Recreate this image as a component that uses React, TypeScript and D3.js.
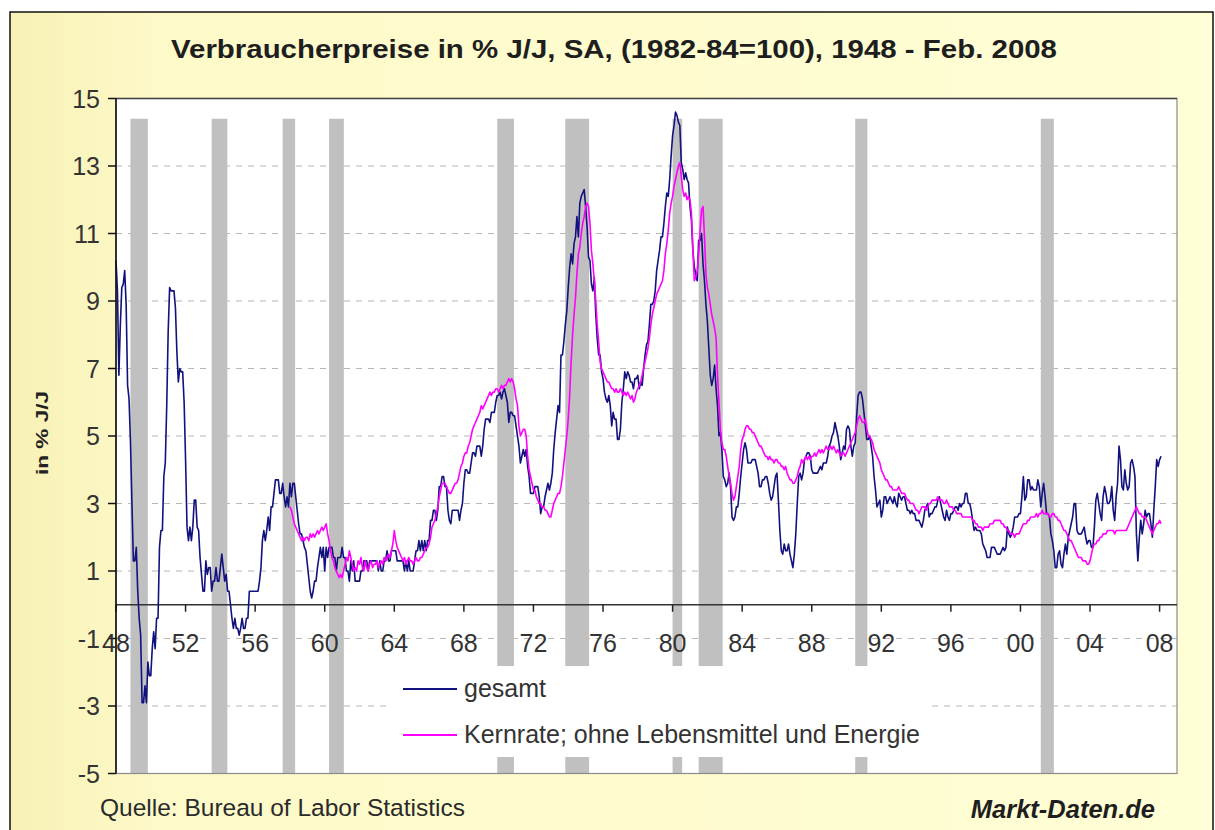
import React from 'react';
import * as d3 from 'd3';

// Monatswerte in % J/J, gesamt ab Jan 1948
const gesamtStart = 1948;
const gesamt = [
  10.2, 9.3, 6.8, 8.3, 9.4, 9.5, 9.9, 8.9, 6.5, 6.1, 4.8, 3.0, // 1948
  1.3, 1.3, 1.7, 0.4, -0.4, -0.9, -2.9, -2.9, -2.4, -2.9, -1.7, -2.1, // 1949
  -2.1, -1.3, -0.8, -1.3, -0.4, -0.4, 1.7, 2.2, 2.2, 3.8, 4.2, 5.9, // 1950
  8.1, 9.4, 9.3, 9.3, 9.3, 8.8, 7.5, 6.6, 7.0, 6.9, 6.9, 6.0, // 1951
  4.3, 2.3, 1.9, 2.3, 1.9, 2.3, 3.1, 3.1, 2.3, 2.2, 1.4, 0.9, // 1952
  0.4, 0.4, 1.3, 0.9, 1.1, 1.1, 0.4, 0.7, 0.7, 1.1, 0.7, 0.7, // 1953
  1.1, 1.5, 1.1, 0.7, 0.9, 0.4, 0.4, 0.0, -0.4, -0.7, -0.4, -0.7, // 1954
  -0.7, -0.9, -0.7, -0.4, -0.7, -0.7, -0.4, -0.4, 0.4, 0.4, 0.4, 0.4, // 1955
  0.4, 0.4, 0.4, 0.7, 1.1, 1.9, 2.2, 1.9, 2.2, 2.6, 2.2, 2.9, // 1956
  2.9, 3.3, 3.7, 3.7, 3.7, 3.3, 3.3, 3.6, 3.2, 2.9, 3.2, 2.9, // 1957
  3.6, 3.2, 3.6, 3.6, 3.2, 2.8, 2.4, 2.1, 2.1, 1.9, 1.7, 1.6, // 1958
  1.2, 0.8, 0.4, 0.2, 0.4, 0.7, 0.7, 1.1, 1.4, 1.7, 1.4, 1.7, // 1959
  1.0, 1.7, 1.4, 1.7, 1.7, 1.7, 1.4, 1.4, 1.0, 1.4, 1.4, 1.4, // 1960
  1.7, 1.4, 1.4, 1.0, 1.0, 0.7, 1.3, 1.0, 1.3, 0.7, 0.7, 0.7, // 1961
  0.7, 1.0, 1.0, 1.3, 1.3, 1.3, 1.0, 1.3, 1.3, 1.3, 1.3, 1.3, // 1962
  1.3, 1.0, 1.3, 1.0, 1.0, 1.3, 1.3, 1.6, 1.3, 1.3, 1.6, 1.6, // 1963
  1.6, 1.6, 1.3, 1.3, 1.3, 1.3, 1.3, 1.0, 1.3, 1.0, 1.3, 1.0, // 1964
  1.0, 1.0, 1.3, 1.6, 1.6, 1.9, 1.6, 1.9, 1.6, 1.9, 1.6, 1.9, // 1965
  1.9, 2.5, 2.5, 2.8, 2.8, 2.5, 2.8, 3.5, 3.5, 3.8, 3.8, 3.5, // 1966
  3.5, 2.8, 2.5, 2.4, 2.8, 2.8, 2.8, 2.8, 2.8, 2.5, 2.8, 3.0, // 1967
  3.6, 4.0, 4.0, 3.9, 3.9, 4.2, 4.5, 4.5, 4.4, 4.7, 4.7, 4.7, // 1968
  4.4, 4.7, 5.2, 5.5, 5.5, 5.5, 5.4, 5.7, 5.7, 5.7, 6.0, 6.2, // 1969
  6.2, 6.3, 6.1, 6.3, 6.4, 6.2, 6.0, 5.4, 5.7, 5.7, 5.6, 5.6, // 1970
  5.3, 5.0, 4.7, 4.2, 4.4, 4.6, 4.4, 4.6, 4.1, 3.8, 3.3, 3.3, // 1971
  3.3, 3.5, 3.5, 3.5, 3.2, 2.7, 2.9, 2.9, 3.2, 3.4, 3.6, 3.4, // 1972
  3.6, 3.9, 4.6, 5.1, 5.5, 5.9, 5.7, 7.4, 7.4, 7.8, 8.3, 8.7, // 1973
  9.4, 10.0, 10.4, 10.1, 10.7, 10.9, 11.5, 10.9, 11.9, 12.1, 12.2, 12.3, // 1974
  11.8, 11.2, 10.3, 10.2, 9.5, 9.3, 9.7, 8.6, 7.9, 7.4, 7.4, 6.9, // 1975
  6.7, 6.3, 6.1, 6.0, 6.2, 5.9, 5.3, 5.7, 5.5, 5.5, 4.9, 4.9, // 1976
  5.2, 6.0, 6.4, 6.9, 6.7, 6.9, 6.8, 6.6, 6.6, 6.4, 6.7, 6.7, // 1977
  6.8, 6.4, 6.6, 6.5, 7.0, 7.4, 7.7, 7.8, 8.3, 8.9, 8.9, 9.0, // 1978
  9.3, 9.9, 10.2, 10.5, 10.9, 10.9, 11.3, 11.8, 12.2, 12.1, 12.6, 13.3, // 1979
  13.9, 14.2, 14.6, 14.5, 14.3, 14.2, 13.1, 12.9, 12.6, 12.8, 12.6, 12.5, // 1980
  11.8, 11.4, 10.5, 10.0, 9.8, 9.6, 10.8, 10.8, 11.0, 10.1, 9.6, 8.9, // 1981
  8.4, 7.6, 6.8, 6.5, 6.7, 7.1, 6.4, 5.9, 5.0, 5.1, 4.6, 3.8, // 1982
  3.7, 3.5, 3.6, 3.9, 3.5, 2.6, 2.5, 2.6, 2.9, 2.9, 3.3, 3.8, // 1983
  4.2, 4.6, 4.8, 4.6, 4.2, 4.2, 4.2, 4.3, 4.3, 4.3, 4.1, 3.9, // 1984
  3.5, 3.5, 3.7, 3.7, 3.8, 3.8, 3.6, 3.3, 3.1, 3.2, 3.5, 3.8, // 1985
  3.9, 3.1, 2.2, 1.6, 1.5, 1.8, 1.6, 1.6, 1.8, 1.5, 1.3, 1.1, // 1986
  1.5, 2.1, 3.0, 3.8, 3.9, 3.7, 3.9, 4.3, 4.4, 4.5, 4.5, 4.4, // 1987
  4.0, 3.9, 3.9, 3.9, 3.9, 4.0, 4.1, 4.0, 4.2, 4.2, 4.2, 4.4, // 1988
  4.7, 4.8, 5.0, 5.1, 5.4, 5.2, 5.0, 4.7, 4.3, 4.5, 4.7, 4.6, // 1989
  5.2, 5.3, 5.2, 4.7, 4.4, 4.7, 4.8, 5.6, 6.2, 6.3, 6.3, 6.1, // 1990
  5.7, 5.3, 4.9, 4.9, 5.0, 4.7, 4.4, 3.8, 3.4, 2.9, 3.0, 3.1, // 1991
  2.6, 2.8, 3.2, 3.2, 3.0, 3.1, 3.2, 3.1, 3.0, 3.2, 3.0, 2.9, // 1992
  3.3, 3.2, 3.1, 3.2, 3.2, 3.0, 2.8, 2.8, 2.7, 2.8, 2.7, 2.7, // 1993
  2.5, 2.5, 2.5, 2.4, 2.3, 2.5, 2.8, 2.9, 3.0, 2.6, 2.7, 2.7, // 1994
  2.8, 2.9, 2.9, 3.1, 3.2, 3.0, 2.8, 2.6, 2.5, 2.8, 2.6, 2.5, // 1995
  2.7, 2.7, 2.8, 2.9, 2.9, 2.8, 3.0, 2.9, 3.0, 3.0, 3.3, 3.3, // 1996
  3.0, 3.0, 2.8, 2.5, 2.2, 2.3, 2.2, 2.2, 2.2, 2.1, 1.8, 1.7, // 1997
  1.6, 1.4, 1.4, 1.4, 1.7, 1.7, 1.7, 1.6, 1.5, 1.5, 1.5, 1.6, // 1998
  1.7, 1.6, 1.7, 2.3, 2.1, 2.0, 2.1, 2.3, 2.6, 2.6, 2.6, 2.7, // 1999
  2.7, 3.2, 3.8, 3.1, 3.2, 3.7, 3.7, 3.4, 3.5, 3.4, 3.4, 3.4, // 2000
  3.7, 3.5, 2.9, 3.3, 3.6, 3.2, 2.7, 2.7, 2.6, 2.1, 1.9, 1.6, // 2001
  1.1, 1.1, 1.5, 1.6, 1.2, 1.1, 1.5, 1.8, 1.5, 2.0, 2.2, 2.4, // 2002
  2.6, 3.0, 3.0, 2.2, 2.1, 2.1, 2.1, 2.2, 2.3, 2.0, 1.8, 1.9, // 2003
  1.9, 1.7, 1.7, 2.3, 3.1, 3.3, 3.0, 2.7, 2.5, 3.2, 3.5, 3.3, // 2004
  3.0, 3.0, 3.1, 3.5, 2.8, 2.5, 3.2, 3.6, 4.7, 4.3, 3.5, 3.4, // 2005
  4.0, 3.6, 3.4, 3.5, 4.2, 4.3, 4.1, 3.8, 2.1, 1.3, 2.0, 2.5, // 2006
  2.1, 2.4, 2.8, 2.6, 2.7, 2.7, 2.4, 2.0, 2.8, 3.5, 4.3, 4.1, // 2007
  4.3, 4.4, // 2008
];

// Kernrate (ohne Lebensmittel und Energie) ab Jan 1958
const kernStart = 1958;
const kern = [
  2.9, 2.8, 2.6, 2.4, 2.3, 2.2, 2.1, 2.0, 1.9, 2.0, 1.9, 2.0, // 1958
  2.0, 1.9, 2.1, 2.0, 2.1, 2.0, 2.1, 2.2, 2.1, 2.2, 2.3, 2.2, // 1959
  2.3, 2.4, 2.1, 1.9, 1.6, 1.4, 1.3, 1.1, 1.0, 0.9, 0.8, 0.9, // 1960
  0.8, 1.0, 1.2, 1.4, 1.3, 1.6, 1.4, 1.2, 1.0, 1.1, 1.0, 1.3, // 1961
  1.2, 1.4, 1.1, 1.0, 1.3, 1.1, 1.0, 1.2, 1.3, 1.1, 1.2, 1.2, // 1962
  1.3, 1.1, 1.2, 1.3, 1.2, 1.4, 1.3, 1.4, 1.5, 1.4, 1.6, 1.8, // 1963
  2.2, 1.9, 1.7, 1.6, 1.5, 1.4, 1.3, 1.4, 1.2, 1.3, 1.4, 1.3, // 1964
  1.3, 1.2, 1.3, 1.4, 1.3, 1.3, 1.4, 1.4, 1.5, 1.6, 1.7, 1.7, // 1965
  1.8, 2.0, 2.3, 2.4, 2.5, 2.7, 2.9, 3.2, 3.4, 3.6, 3.6, 3.6, // 1966
  3.5, 3.4, 3.3, 3.3, 3.4, 3.5, 3.6, 3.6, 3.7, 3.9, 4.1, 4.2, // 1967
  4.4, 4.5, 4.5, 4.7, 4.8, 5.0, 5.2, 5.3, 5.4, 5.5, 5.6, 5.7, // 1968
  5.9, 5.8, 5.9, 6.0, 6.1, 6.2, 6.3, 6.2, 6.3, 6.3, 6.4, 6.4, // 1969
  6.3, 6.4, 6.5, 6.4, 6.5, 6.5, 6.6, 6.7, 6.6, 6.7, 6.6, 6.4, // 1970
  6.1, 5.9, 5.3, 5.0, 5.1, 5.2, 5.2, 5.0, 4.4, 4.0, 3.8, 3.6, // 1971
  3.4, 3.4, 3.2, 3.1, 3.0, 3.0, 2.9, 2.9, 2.8, 2.8, 2.7, 2.6, // 1972
  2.6, 2.8, 3.0, 3.1, 3.2, 3.3, 3.3, 3.5, 3.8, 4.2, 4.6, 5.0, // 1973
  5.5, 6.2, 7.2, 8.0, 8.6, 9.1, 9.8, 10.4, 10.6, 11.0, 11.3, 11.5, // 1974
  11.8, 11.9, 11.8, 11.3, 10.5, 10.1, 9.6, 9.0, 8.3, 7.8, 7.2, 7.0, // 1975
  6.9, 6.8, 6.7, 6.6, 6.6, 6.5, 6.4, 6.4, 6.3, 6.4, 6.3, 6.3, // 1976
  6.4, 6.3, 6.2, 6.3, 6.2, 6.3, 6.2, 6.1, 6.2, 6.0, 6.1, 6.3, // 1977
  6.4, 6.5, 6.6, 6.8, 7.0, 7.2, 7.4, 7.6, 7.9, 8.3, 8.6, 8.8, // 1978
  9.0, 9.2, 9.3, 9.4, 9.5, 9.6, 9.9, 10.4, 10.7, 11.1, 11.6, 11.9, // 1979
  12.1, 12.4, 12.6, 12.8, 13.0, 13.1, 12.7, 12.3, 12.1, 12.2, 12.0, 12.1, // 1980
  12.0, 11.6, 10.5, 9.6, 9.7, 9.9, 10.4, 11.1, 11.7, 11.8, 10.9, 9.8, // 1981
  9.4, 9.2, 8.9, 8.6, 8.4, 8.2, 7.9, 6.8, 6.0, 5.2, 4.8, 4.6, // 1982
  4.6, 4.4, 4.1, 3.8, 3.6, 3.3, 3.1, 3.2, 3.5, 3.8, 4.1, 4.6, // 1983
  4.9, 5.0, 5.2, 5.3, 5.3, 5.2, 5.2, 5.1, 5.1, 5.0, 4.9, 4.8, // 1984
  4.7, 4.7, 4.6, 4.5, 4.4, 4.4, 4.3, 4.4, 4.3, 4.3, 4.2, 4.3, // 1985
  4.3, 4.2, 4.2, 4.1, 4.1, 4.0, 4.1, 3.9, 3.8, 3.7, 3.7, 3.6, // 1986
  3.6, 3.7, 3.8, 4.0, 4.1, 4.3, 4.2, 4.3, 4.4, 4.3, 4.4, 4.3, // 1987
  4.4, 4.4, 4.5, 4.4, 4.5, 4.6, 4.5, 4.6, 4.5, 4.6, 4.7, 4.6, // 1988
  4.6, 4.7, 4.6, 4.7, 4.6, 4.5, 4.6, 4.5, 4.4, 4.5, 4.5, 4.4, // 1989
  4.5, 4.6, 4.7, 4.8, 4.9, 5.0, 5.1, 5.3, 5.5, 5.6, 5.5, 5.4, // 1990
  5.4, 5.5, 5.2, 5.0, 5.0, 4.9, 4.8, 4.6, 4.5, 4.4, 4.3, 4.2, // 1991
  4.0, 3.9, 3.8, 3.7, 3.7, 3.6, 3.5, 3.5, 3.4, 3.4, 3.4, 3.4, // 1992
  3.5, 3.4, 3.3, 3.3, 3.3, 3.2, 3.1, 3.1, 3.0, 3.0, 3.0, 2.9, // 1993
  2.8, 2.8, 2.7, 2.8, 2.9, 2.9, 2.9, 2.8, 2.9, 3.0, 3.0, 3.1, // 1994
  3.1, 3.1, 3.1, 3.2, 3.1, 3.1, 3.1, 3.0, 3.0, 3.1, 3.0, 2.9, // 1995
  2.9, 2.9, 2.8, 2.8, 2.7, 2.7, 2.7, 2.7, 2.6, 2.6, 2.6, 2.6, // 1996
  2.6, 2.6, 2.6, 2.5, 2.5, 2.4, 2.4, 2.3, 2.3, 2.3, 2.2, 2.3, // 1997
  2.3, 2.3, 2.3, 2.4, 2.4, 2.4, 2.5, 2.5, 2.5, 2.5, 2.5, 2.4, // 1998
  2.4, 2.3, 2.3, 2.2, 2.2, 2.1, 2.1, 2.1, 2.0, 2.1, 2.1, 2.1, // 1999
  2.2, 2.3, 2.4, 2.4, 2.4, 2.5, 2.5, 2.6, 2.6, 2.6, 2.6, 2.7, // 2000
  2.6, 2.7, 2.7, 2.8, 2.7, 2.7, 2.7, 2.7, 2.6, 2.6, 2.7, 2.7, // 2001
  2.6, 2.6, 2.5, 2.5, 2.4, 2.3, 2.2, 2.2, 2.1, 2.0, 1.9, 1.9, // 2002
  1.8, 1.7, 1.6, 1.5, 1.4, 1.4, 1.4, 1.3, 1.3, 1.3, 1.2, 1.2, // 2003
  1.3, 1.5, 1.7, 1.8, 1.8, 1.9, 1.9, 2.0, 2.0, 2.1, 2.1, 2.1, // 2004
  2.2, 2.2, 2.2, 2.2, 2.2, 2.1, 2.2, 2.2, 2.2, 2.2, 2.2, 2.2, // 2005
  2.2, 2.2, 2.3, 2.4, 2.5, 2.6, 2.7, 2.8, 2.9, 2.8, 2.7, 2.7, // 2006
  2.6, 2.6, 2.6, 2.5, 2.4, 2.3, 2.2, 2.1, 2.2, 2.3, 2.4, 2.4, // 2007
  2.5, 2.4, // 2008
];

// Rezessionen (Beginn / Ende, Jahr als Dezimalzahl)
const recessionStarts = [1948.83, 1953.5, 1957.58, 1960.25, 1969.92, 1973.83, 1980.0, 1981.5, 1990.5, 2001.17];
const recessionEnds = [1949.83, 1954.4, 1958.3, 1961.1, 1970.88, 1975.2, 1980.55, 1982.88, 1991.2, 2001.92];
const recessionTop = 14.4;

const yTicks = [-5, -3, -1, 1, 3, 5, 7, 9, 11, 13, 15];
const gridValues = [-3, -1, 1, 3, 5, 7, 9, 11, 13];
const xTickYears = [1948, 1952, 1956, 1960, 1964, 1968, 1972, 1976, 1980, 1984, 1988, 1992, 1996, 2000, 2004, 2008];

const seriesNames = ['gesamt', 'Kernrate; ohne Lebensmittel und Energie'];
const seriesColors = ['#12127e', '#ff00ff'];

const font = '"Liberation Sans", Arial, sans-serif';

export default function App() {
  const W = 1215, H = 830;
  const left = 116, right = 1177, top = 98.5, bottom = 773.5;

  const x = d3.scaleLinear().domain([1948, 2009]).range([left, right]);
  const y = d3.scaleLinear().domain([-5, 15]).range([bottom, top]);

  const lineG = d3.line<number>()
    .x((d, i) => x(gesamtStart + i / 12))
    .y(d => y(d));
  const lineK = d3.line<number>()
    .x((d, i) => x(kernStart + i / 12))
    .y(d => y(d));

  const legend = { x: 390, y: 666, w: 540, h: 91 };

  return (
    <div style={{ position: 'absolute', left: 0, top: 0 }}>
      <svg width={W} height={H} style={{ display: 'block' }}>
        <defs>
          <linearGradient id="bg" x1="0" y1="0" x2="1" y2="0">
            <stop offset="0" stopColor="#f8f1b6" />
            <stop offset="0.12" stopColor="#fdf9c8" />
            <stop offset="1" stopColor="#fffed6" />
          </linearGradient>
        </defs>
        <rect x={0} y={0} width={W} height={H} fill="#ffffff" />
        <rect x={10} y={12} width={1203} height={830} fill="url(#bg)" stroke="#111" strokeWidth={1.5} />

        <text x={614} y={58} textAnchor="middle" fontFamily={font} fontWeight="bold" fontSize={26} fill="#1e1e1e"
          textLength={886} lengthAdjust="spacingAndGlyphs">
          Verbraucherpreise in % J/J, SA, (1982-84=100), 1948 - Feb. 2008
        </text>

        {/* Zeichenfläche */}
        <rect x={left} y={top} width={right - left} height={bottom - top} fill="#ffffff" />

        {gridValues.map(v => (
          <line key={'g' + v} x1={left} x2={right} y1={y(v)} y2={y(v)}
            stroke="#b8b8b8" strokeWidth={1.2} strokeDasharray="6,6" />
        ))}

        {recessionStarts.map((s, i) => (
          <rect key={'r' + i} x={x(s)} width={x(recessionEnds[i]) - x(s)}
            y={y(recessionTop)} height={y(-5) - y(recessionTop)} fill="#c0c0c0" />
        ))}

        <rect x={legend.x} y={legend.y} width={legend.w} height={legend.h} fill="#ffffff" />

        <rect x={left} y={top} width={right - left} height={bottom - top} fill="none" stroke="#8a8a8a" strokeWidth={1.2} />
        <line x1={left} x2={right} y1={top} y2={top} stroke="#444" strokeWidth={1.5} />

        {/* Nulllinie / x-Achse */}
        <line x1={left} x2={right} y1={y(0)} y2={y(0)} stroke="#333" strokeWidth={1.6} />
        {xTickYears.map(t => (
          <line key={'xt' + t} x1={x(t)} x2={x(t)} y1={y(0)} y2={y(0) + 7} stroke="#222" strokeWidth={1.5} />
        ))}

        <path d={lineG(gesamt) || ''} fill="none" stroke={seriesColors[0]} strokeWidth={1.6} strokeLinejoin="round" />
        <path d={lineK(kern) || ''} fill="none" stroke={seriesColors[1]} strokeWidth={1.6} strokeLinejoin="round" />

        {/* y-Achse */}
        <line x1={left} x2={left} y1={top} y2={bottom} stroke="#111" strokeWidth={1.6} />
        {yTicks.map(v => (
          <line key={'yt' + v} x1={left - 8} x2={left} y1={y(v)} y2={y(v)} stroke="#111" strokeWidth={1.5} />
        ))}
        {yTicks.map(v => (
          <text key={'yl' + v} x={100} y={y(v) + 9} textAnchor="end" fontFamily={font} fontSize={25} fill="#333">
            {v}
          </text>
        ))}
        {xTickYears.map(t => (
          <text key={'xl' + t} x={x(t)} y={652} textAnchor="middle" fontFamily={font} fontSize={25} fill="#333">
            {String(t % 100).padStart(2, '0')}
          </text>
        ))}

        <text transform="translate(48,433) rotate(-90)" textAnchor="middle" fontFamily={font}
          fontWeight="bold" fontSize={17} fill="#222" textLength={84} lengthAdjust="spacingAndGlyphs">
          in % J/J
        </text>

        {/* Legende */}
        {seriesNames.map((n, i) => (
          <g key={'lg' + i}>
            <line x1={403} x2={457} y1={689 + i * 46} y2={689 + i * 46} stroke={seriesColors[i]} strokeWidth={1.8} />
            <text x={464} y={697 + i * 46} fontFamily={font} fontSize={25} fill="#333">{n}</text>
          </g>
        ))}

        <text x={100} y={816} fontFamily={font} fontSize={24.5} fill="#2a2a2a">
          Quelle: Bureau of Labor Statistics
        </text>
        <text x={1155} y={818} textAnchor="end" fontFamily={font} fontWeight="bold" fontStyle="italic" fontSize={25.5} fill="#1e1e1e">
          Markt-Daten.de
        </text>
      </svg>
    </div>
  );
}
